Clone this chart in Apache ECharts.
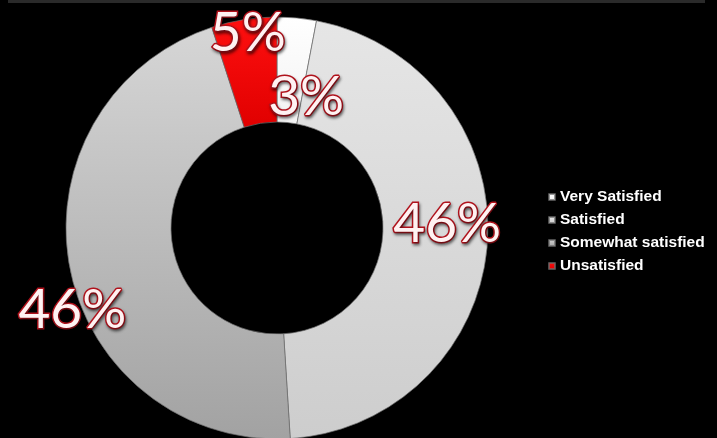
<!DOCTYPE html>
<html>
<head>
<meta charset="utf-8">
<script src="https://cdn.jsdelivr.net/npm/echarts@6/dist/echarts.min.js"></script>
<style>
  html, body { margin: 0; padding: 0; background: #000; }
  #chart { width: 717px; height: 438px; }
</style>
</head>
<body>
<div id="chart"></div>
<script>
// Satisfaction survey results (percent of respondents)
const categories = ['Very Satisfied', 'Satisfied', 'Somewhat satisfied', 'Unsatisfied'];
const percentages = [3, 46, 46, 5];

// Label nudges from the default inside position, per slice
const labelNudges = [[14, 30], [9, -14], [-46, 52], [-4, -35]];

function vGrad(top, bottom) {
  return new echarts.graphic.LinearGradient(0, 0, 0, 1, [
    { offset: 0, color: top },
    { offset: 1, color: bottom }
  ]);
}

const sliceColors = [
  vGrad('#ffffff', '#f2f2f2'),
  vGrad('#e6e6e6', '#cdcdcd'),
  vGrad('#d6d6d6', '#a2a2a2'),
  vGrad('#ff1010', '#e00000')
];

const chart = echarts.init(document.getElementById('chart'), null, { renderer: 'canvas' });

chart.setOption({
  backgroundColor: '#000000',
  animation: false,
  graphic: [{
    type: 'rect',
    shape: { x: 8, y: 0, width: 697, height: 3 },
    style: { fill: '#2a2a2a' },
    silent: true
  }],
  legend: {
    orient: 'vertical',
    left: 543,
    top: 184,
    icon: 'rect',
    itemWidth: 6,
    itemHeight: 6,
    itemGap: 7,
    textStyle: {
      color: '#ffffff',
      fontSize: 15.5,
      fontWeight: 'bold',
      fontFamily: 'Liberation Sans, Arial, sans-serif'
    },
    data: categories
  },
  series: [{
    type: 'pie',
    center: [277, 228],
    radius: [106, 211],
    startAngle: 90,
    clockwise: true,
    avoidLabelOverlap: false,
    itemStyle: {
      borderColor: 'rgba(110,110,110,0.7)',
      borderWidth: 1
    },
    label: {
      show: true,
      position: 'inside',
      formatter: '{c}%',
      fontFamily: 'Lato, "Open Sans", sans-serif',
      fontSize: 55,
      color: '#fff2f2',
      textBorderColor: '#b3121c',
      textBorderWidth: 3,
      textShadowColor: 'rgba(0,0,0,0.45)',
      textShadowBlur: 3,
      textShadowOffsetX: 1,
      textShadowOffsetY: 2
    },
    labelLine: { show: false },
    emphasis: { disabled: true },
    labelLayout: function (params) {
      const n = labelNudges[params.dataIndex];
      return { dx: n[0], dy: n[1] };
    },
    data: categories.map(function (name, i) {
      return { name: name, value: percentages[i], itemStyle: { color: sliceColors[i] } };
    })
  }]
});
</script>
</body>
</html>
